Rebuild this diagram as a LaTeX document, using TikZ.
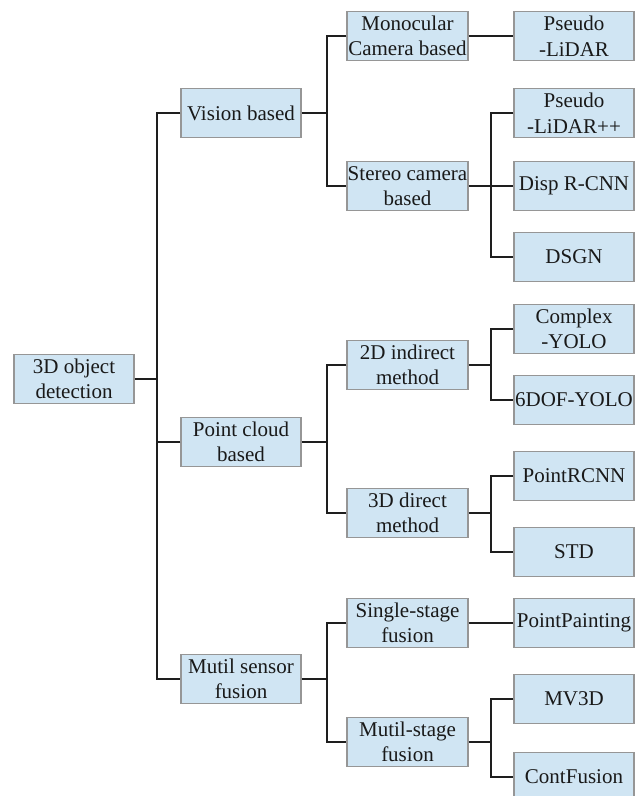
\documentclass[tikz,border=0pt]{standalone}
\usepackage{fontspec}
\setmainfont{Liberation Serif}
\definecolor{boxfill}{RGB}{208,229,243}
\definecolor{boxline}{RGB}{150,150,150}
\definecolor{linkc}{RGB}{30,30,30}
\begin{document}
\begin{tikzpicture}[x=1pt,y=-1pt,
  box/.style={draw=boxline, fill=boxfill, line width=1.2pt, minimum width=120pt, minimum height=49pt, inner sep=0pt, align=center, font=\fontsize{21}{25.5}\selectfont, text=black!90},
  link/.style={draw=linkc, line width=1.1pt}]
\useasboundingbox (0,0) rectangle (640,796);
% root
\node[box] (root) at (74,379) {3D object\\detection};
% level 1
\node[box] (vision) at (241,113) {Vision based};
\node[box] (point) at (241,442) {Point cloud\\based};
\node[box] (mutil) at (241,679) {Mutil sensor\\fusion};
% level 2
\node[box,minimum width=121pt] (mono) at (407.5,36) {Monocular\\Camera based};
\node[box,minimum width=121pt] (stereo) at (407.5,186) {Stereo camera\\based};
\node[box,minimum width=121pt] (d2) at (407.5,365) {2D indirect\\method};
\node[box,minimum width=121pt] (d3) at (407.5,513) {3D direct\\method};
\node[box,minimum width=121pt] (single) at (407.5,623) {Single-stage\\fusion};
\node[box,minimum width=121pt] (mstage) at (407.5,742) {Mutil-stage\\fusion};
% level 3
\node[box] (pl) at (574,36) {Pseudo\\-LiDAR};
\node[box] (plpp) at (574,113) {Pseudo\\-LiDAR++};
\node[box] (disp) at (574,186) {Disp R-CNN};
\node[box] (dsgn) at (574,257) {DSGN};
\node[box] (cyolo) at (574,329) {Complex\\-YOLO};
\node[box] (sdof) at (574,400) {6DOF-YOLO};
\node[box] (prcnn) at (574,476) {PointRCNN};
\node[box] (std) at (574,552) {STD};
\node[box] (pp) at (574,623) {PointPainting};
\node[box] (mv3d) at (574,699) {MV3D};
\node[box] (contf) at (574,777) {ContFusion};
% junction columns
\coordinate (t0) at (157,0);
\coordinate (t1) at (327,0);
\coordinate (t2) at (491,0);
% root trunk
\draw[link] (root.east) -- (root.east -| t0);
\draw[link] (vision.west) -- (vision.west -| t0) -- (mutil.west -| t0) -- (mutil.west);
\draw[link] (point.west) -- (point.west -| t0);
% vision
\draw[link] (vision.east) -- (vision.east -| t1);
\draw[link] (mono.west) -- (mono.west -| t1) -- (stereo.west -| t1) -- (stereo.west);
\draw[link] (mono.east) -- (pl.west);
\draw[link] (stereo.east) -- (disp.west);
\draw[link] (plpp.west) -- (plpp.west -| t2) -- (dsgn.west -| t2) -- (dsgn.west);
% point cloud
\draw[link] (point.east) -- (point.east -| t1);
\draw[link] (d2.west) -- (d2.west -| t1) -- (d3.west -| t1) -- (d3.west);
\draw[link] (d2.east) -- (d2.east -| t2);
\draw[link] (cyolo.west) -- (cyolo.west -| t2) -- (sdof.west -| t2) -- (sdof.west);
\draw[link] (d3.east) -- (d3.east -| t2);
\draw[link] (prcnn.west) -- (prcnn.west -| t2) -- (std.west -| t2) -- (std.west);
% mutil sensor
\draw[link] (mutil.east) -- (mutil.east -| t1);
\draw[link] (single.west) -- (single.west -| t1) -- (mstage.west -| t1) -- (mstage.west);
\draw[link] (single.east) -- (pp.west);
\draw[link] (mstage.east) -- (mstage.east -| t2);
\draw[link] (mv3d.west) -- (mv3d.west -| t2) -- (contf.west -| t2) -- (contf.west);
\end{tikzpicture}
\end{document}
